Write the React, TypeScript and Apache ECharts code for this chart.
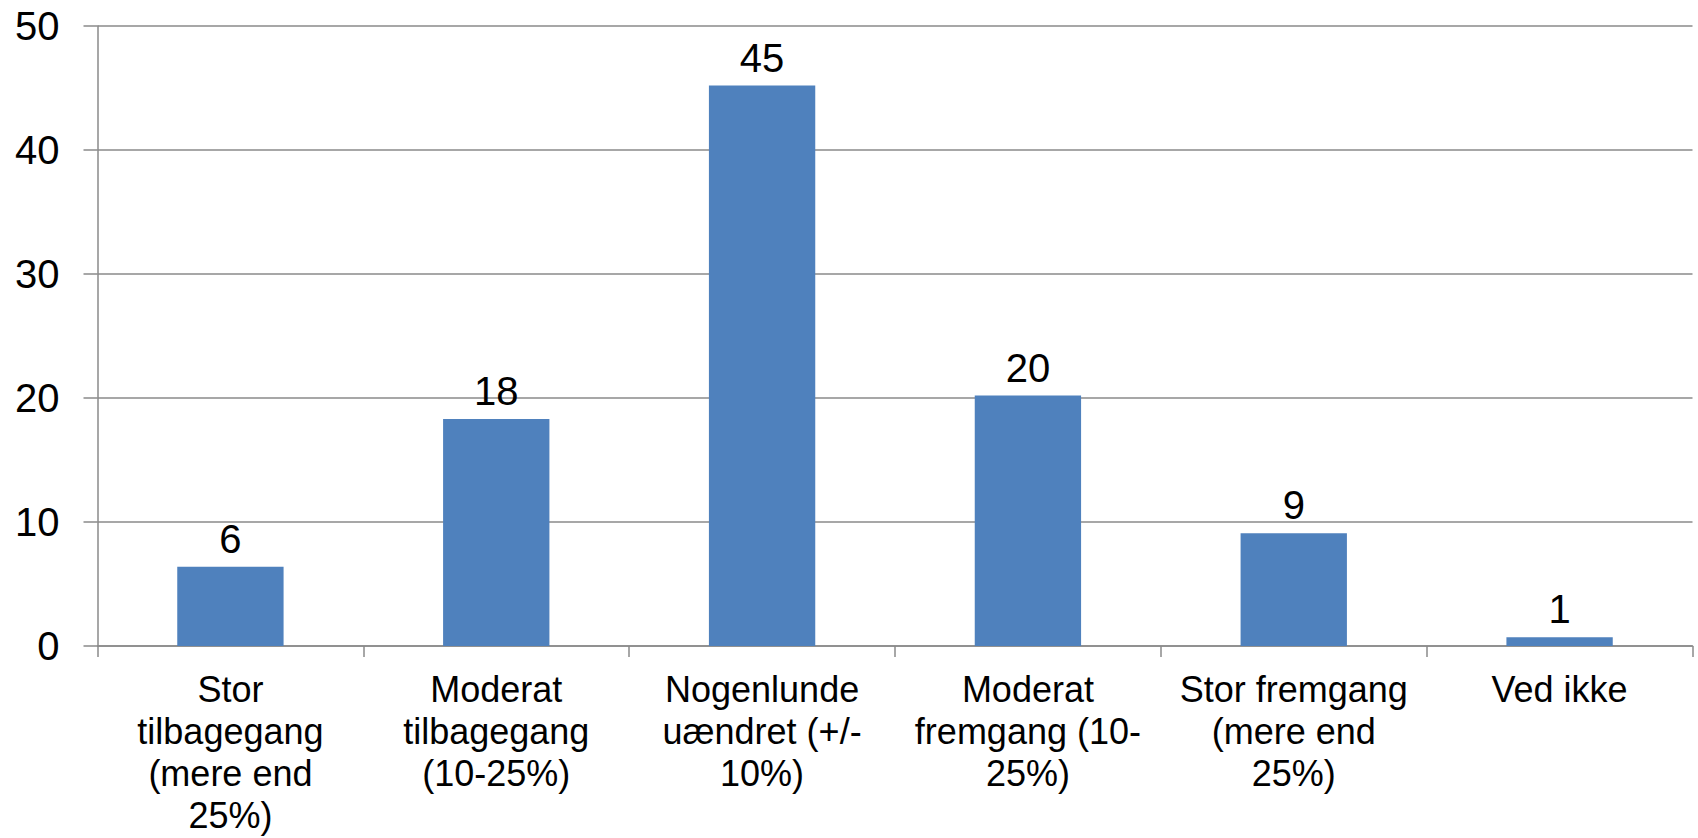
import React, { useEffect, useRef } from "react";
import * as echarts from "echarts";

const categories = [
  "Stor\ntilbagegang\n(mere end\n25%)",
  "Moderat\ntilbagegang\n(10-25%)",
  "Nogenlunde\nuændret (+/-\n10%)",
  "Moderat\nfremgang (10-\n25%)",
  "Stor fremgang\n(mere end\n25%)",
  "Ved ikke",
];
const values = [6.4, 18.3, 45.2, 20.2, 9.1, 0.7];
const yMin = 0;
const yMax = 50;
const yStep = 10;

const FONT = "'Liberation Sans', Arial, Helvetica, sans-serif";
const GRAY = "#8a8a8a";

export default function App() {
  const ref = useRef<HTMLDivElement>(null);
  useEffect(() => {
    if (!ref.current) return;
    const chart = echarts.init(ref.current, undefined, { renderer: "svg" });
    chart.setOption({
      animation: false,
      backgroundColor: "#ffffff",
      grid: { left: 97.5, right: 5.5, top: 26, bottom: 192, containLabel: false },
      xAxis: {
        type: "category",
        data: categories,
        boundaryGap: true,
        axisLine: { show: true, lineStyle: { color: GRAY, width: 1.5 } },
        axisTick: { show: true, length: 11, alignWithLabel: false, lineStyle: { color: GRAY, width: 1.5 } },
        axisLabel: {
          interval: 0,
          margin: 22,
          color: "#000",
          fontFamily: FONT,
          fontSize: 36,
          lineHeight: 42,
          align: "center",
        },
        splitLine: { show: false },
      },
      yAxis: {
        type: "value",
        min: yMin,
        max: yMax,
        interval: yStep,
        axisLine: { show: true, lineStyle: { color: GRAY, width: 1.5 } },
        axisTick: { show: true, length: 14, lineStyle: { color: GRAY, width: 1.5 } },
        axisLabel: {
          margin: 38,
          color: "#000",
          fontFamily: FONT,
          fontSize: 40,
        },
        splitLine: { show: true, lineStyle: { color: GRAY, width: 1.5 } },
      },
      series: [
        {
          type: "bar",
          data: values,
          barCategoryGap: "60%",
          itemStyle: { color: "#4F81BD" },
          label: {
            show: true,
            position: "top",
            distance: 8,
            color: "#000",
            fontFamily: FONT,
            fontSize: 40,
            formatter: (p: any) => String(Math.round(p.value)),
          },
        },
      ],
    });
    return () => chart.dispose();
  }, []);
  return (
    <div
      ref={ref}
      style={{ position: "absolute", left: 0, top: 0, width: 1698, height: 838, background: "#fff" }}
    />
  );
}
